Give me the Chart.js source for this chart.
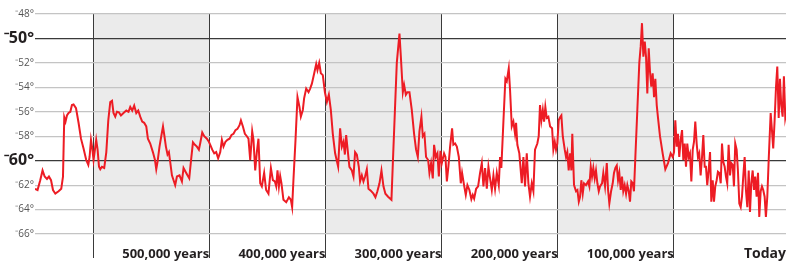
<!DOCTYPE html>
<html>
<head>
<meta charset="utf-8">
<script src="https://cdn.jsdelivr.net/npm/chart.js@4.4.0/dist/chart.umd.min.js"></script>
<style>
  html, body { margin: 0; padding: 0; background: #fff; }
  .wrap { position: relative; width: 786px; height: 263px; }
</style>
</head>
<body>
<div class="wrap"><canvas id="chart"></canvas></div>
<script>
// thousands of years ago
const years = [
  650, 647.8, 645.5, 643.5, 641.7, 639.7, 638.0, 636.2, 634.5, 632.5, 629.7, 627.4, 625.9, 624.8, 623.7, 622.5,
  621.1, 619.6, 618.2, 616.8, 614.7, 612.5, 610.4, 608.2, 605.9, 604.1, 603.0, 601.8, 600.7, 599.6, 598.4, 597.3,
  596.1, 594.9, 593.8, 592.4, 590.4, 588.6, 586.9, 585.2, 583.7, 582.4, 580.9, 579.4, 577.7, 576.0, 573.8, 571.4,
  569.5, 568.0, 566.3, 564.6, 562.8, 561.1, 559.4, 557.7, 556.0, 554.2, 552.8, 550.8, 548.5, 546.7, 545.6, 544.5,
  542.8, 541.1, 539.8, 538.7, 537.3, 535.9, 534.7, 533.6, 532.1, 530.7, 529.3, 527.8, 525.6, 523.5, 522.1, 520.4,
  518.7, 517.2, 515.8, 514.0, 512.3, 510.6, 508.9, 507.8, 506.0, 504.3, 502.0, 500.3, 499.1, 497.4, 495.7, 494.0,
  492.3, 490.5, 489.1, 487.7, 486.0, 484.3, 482.5, 480.8, 479.1, 477.4, 475.7, 473.9, 472.7, 471.0, 469.3, 467.6,
  466.2, 464.7, 463.0, 461.9, 460.4, 459.0, 457.6, 456.1,
  454.7, 452.7, 451.0, 449.0, 446.9, 445.2, 443.5, 442.3, 441.2, 440.0, 438.9, 437.8, 436.1, 433.7, 431.4, 429.7,
  428.6, 427.5, 425.7, 424.0, 422.3, 421.1, 419.4, 418.3, 416.5, 414.5, 413.1, 411.6, 409.6, 407.9, 406.8, 405.3,
  403.9, 402.2, 400.4, 398.7, 397.0, 395.3, 393.6, 391.6, 389.0, 387.3, 385.8, 384.4, 383.2, 382.1, 380.6, 379.3,
  377.2, 375.8, 374.4, 372.9, 371.2, 370.1, 368.6, 367.2, 365.8, 364.3, 362.9, 360.9, 358.6, 356.9, 355.2, 353.4,
  351.7, 350.0, 348.3, 346.0, 343.1, 341.9, 340.2, 338.5, 336.2, 335.0, 333.3, 332.2, 330.7, 329.4, 327.6, 325.6,
  323.6, 321.9, 320.4, 319.0, 317.3, 316.1, 314.7, 313.3, 311.5, 310.4, 309.0, 307.5, 306.4, 304.9, 303.5, 302.3,
  300.9, 299.7, 297.8, 296.6, 295.4, 294.1, 292.6, 290.9, 289.8, 288.3, 286.8, 285.1, 283.4, 282.3, 280.6, 279.1,
  277.7, 276.0, 274.3, 273.1, 271.9, 270.2, 268.5, 266.8, 265.3, 263.9, 262.5, 261.0, 259.6, 258.2, 256.7, 255.3,
  253.9, 252.4, 250.7, 249.6, 248.5, 246.7, 245.0, 243.8, 242.1, 241.0, 239.5, 238.1, 236.7, 235.8, 234.7, 233.0,
  232.4, 230.9, 229.5, 228.1, 226.6, 225.2, 223.8, 222.3, 220.9, 219.5, 217.5, 216.3, 215.2, 214.0, 212.8, 211.7,
  210.6, 209.4, 208.0, 206.5, 204.8, 203.7, 202.5, 201.4, 200.3, 199.1, 197.9, 196.8, 195.6, 193.9, 192.8, 191.7,
  190.5, 189.3, 188.2, 187.4, 185.9, 184.2, 183.0, 181.8, 180.7, 179.6, 178.4, 177.3, 175.6, 173.8, 172.7, 171.5,
  170.4, 169.3, 168.1, 167.0, 165.8, 164.6, 163.5, 161.8, 160.7, 159.2, 157.7, 156.6, 155.5, 154.0, 152.6, 151.5,
  150.3, 149.1, 148.0, 146.9, 145.7, 144.6, 143.5, 142.3, 141.1, 140.0, 138.8, 137.7, 136.6, 135.4, 134.3, 133.1,
  131.4, 129.7, 128.5, 127.4, 126.2, 125.0, 123.9, 122.8, 121.6, 120.5, 119.4, 118.2, 117.0, 115.9, 114.7, 113.6,
  111.9, 109.6, 107.3, 105.0, 102.7, 100.9, 99.8, 98.7, 97.5, 96.4, 95.3, 94.1, 92.9, 91.8, 90.6, 89.5,
  88.4, 87.2, 86.1, 84.9, 83.7, 82.6, 81.5, 80.3, 79.2, 78.1, 76.9, 75.7, 74.6, 73.4, 72.3, 71.2,
  70.0, 68.8, 67.7, 66.5, 65.4, 64.3, 63.1, 62.0, 60.8, 59.6, 58.5, 57.4, 56.2, 55.1, 54.0, 52.8,
  51.6, 50.5, 49.3, 48.2, 47.1, 45.9, 44.8, 43.6, 42.4, 41.3, 40.2, 39.0, 37.9, 36.7, 35.5, 34.4,
  33.3, 32.1, 31.0, 29.9, 28.7, 27.5, 26.4, 25.2, 24.1, 23.0, 21.8, 20.7, 19.5, 18.3, 16.6, 15.5,
  14.4, 13.2, 12.0, 10.9, 9.7, 8.6, 7.5, 6.3, 5.2, 4.0, 3.4
];

// temperature, degrees
const temps = [
  -62.3, -62.4, -61.6, -60.8, -61.3, -61.5, -61.3, -61.6, -62.4, -62.7, -62.5, -62.3, -61.3, -56.45, -56.8, -56.3,
  -56.1, -56.0, -55.45, -55.4, -55.7, -56.9, -58.2, -59.0, -59.95, -60.35, -59.7, -58.3, -59.0, -59.95, -59.1, -58.3,
  -59.1, -60.5, -60.7, -60.5, -60.6, -59.3, -56.7, -55.2, -55.1, -56.1, -56.4, -56.0, -56.05, -56.3, -56.1, -55.9,
  -56.0, -55.6, -55.9, -55.5, -56.1, -55.9, -56.4, -56.8, -56.9, -57.2, -58.2, -58.6, -59.3, -59.95, -60.7, -60.1,
  -58.85, -57.9, -57.2, -57.9, -58.85, -59.5, -59.3, -60.1, -61.2, -61.6, -62.0, -61.3, -61.2, -61.7, -60.6, -60.9,
  -61.2, -61.45, -60.1, -58.5, -58.7, -58.85, -59.1, -58.6, -57.7, -58.0, -58.2, -58.45, -58.7, -59.1, -59.4, -59.3,
  -59.8, -59.3, -58.3, -58.85, -58.45, -58.3, -58.2, -57.9, -57.8, -57.5, -57.4, -57.1, -56.7, -57.2, -57.8, -58.0,
  -58.2, -59.95, -57.6, -58.3, -60.8, -59.3, -58.2, -61.85,
  -62.1, -61.0, -62.4, -62.7, -60.6, -61.6, -61.7, -62.1, -60.8, -62.1, -61.25, -61.85, -63.2, -63.4, -63.0, -63.2,
  -63.8, -61.6, -58.3, -54.8, -55.6, -56.4, -55.85, -54.9, -54.1, -54.4, -54.1, -53.7, -52.85, -52.1, -52.6, -52.0,
  -52.85, -53.0, -54.4, -55.2, -54.6, -55.85, -57.8, -59.4, -60.5, -57.35, -58.85, -58.45, -59.5, -57.9, -59.3, -60.5,
  -60.8, -61.3, -59.3, -59.5, -60.5, -61.7, -61.2, -61.7, -61.3, -60.7, -62.3, -62.45, -62.7, -63.0, -62.5, -61.85,
  -60.8, -62.1, -62.7, -62.95, -63.2, -60.2, -56.1, -52.0, -49.6, -51.5, -54.4, -53.8, -54.6, -54.4, -54.4, -55.85,
  -57.8, -59.1, -59.7, -57.6, -56.4, -58.0, -57.8, -59.7, -59.95, -61.0, -60.2, -61.45, -58.7, -59.7, -59.4, -61.3,
  -59.2, -60.2, -59.4, -59.7, -61.7, -60.5, -58.85, -57.35, -58.7, -58.6, -58.85, -59.7, -61.85, -61.0, -62.0, -62.8,
  -62.0, -62.4, -63.15, -62.8, -63.1, -62.3, -62.1, -61.0, -60.2, -62.1, -60.6, -62.3, -60.5, -61.45, -62.4, -61.2,
  -62.3, -61.0, -62.0, -59.7, -60.6, -56.8, -53.3, -53.5, -52.45, -54.2, -57.2, -56.8, -57.8, -56.9, -58.7, -59.4,
  -60.1, -61.85, -59.7, -62.1, -59.4, -61.85, -62.95, -61.85, -62.5, -59.1, -58.6, -58.0, -55.45, -56.7, -55.85, -56.8,
  -55.6, -56.5, -56.4, -57.2, -57.35, -59.1, -58.45, -59.1, -58.6, -56.7, -56.45, -56.3, -58.0, -59.1, -59.7, -59.3,
  -60.8, -59.4, -60.8, -57.8, -62.0, -62.5, -62.4, -63.35, -62.95, -61.6, -62.7, -61.85, -62.0, -61.7, -62.1, -60.5,
  -61.3, -60.6, -61.45, -60.8, -61.85, -62.5, -62.1, -61.85, -61.0, -62.1, -60.2, -62.4, -63.5, -62.5, -61.85, -61.0,
  -60.6, -60.4, -61.6, -61.0, -62.4, -61.3, -62.5, -62.0, -62.7, -62.0, -62.5, -63.35, -61.7, -61.85, -62.5, -59.7,
  -55.85, -52.0, -50.65, -48.75, -51.5, -50.25, -51.5, -54.5, -50.8, -52.7, -53.95, -52.85, -54.8, -53.3, -55.45, -56.5,
  -58.0, -59.4, -60.7, -60.2, -59.4, -59.7, -59.3, -56.7, -58.85, -57.8, -59.7, -58.3, -57.5, -59.95, -58.6, -60.5,
  -58.6, -59.7, -59.4, -61.7, -59.1, -58.45, -56.8, -58.6, -59.7, -59.4, -61.2, -59.7, -57.9, -60.5, -60.5, -62.0,
  -60.8, -59.3, -63.35, -61.6, -63.35, -62.1, -61.6, -60.9, -61.0, -61.85, -58.6, -60.1, -60.5, -61.3, -61.85, -58.7,
  -61.2, -60.2, -60.35, -62.1, -58.6, -59.1, -60.8, -63.5, -63.8, -62.95, -61.3, -59.7, -62.4, -63.8, -60.8, -64.2,
  -61.85, -60.8, -62.4, -61.3, -62.95, -61.0, -64.6, -62.5, -62.1, -62.4, -62.95, -64.6, -62.95, -59.95, -56.1, -57.5,
  -59.0, -56.7, -53.95, -52.3, -56.5, -53.3, -55.45, -56.4, -53.1, -56.5, -56.2
];

const yTicks = [-66, -64, -62, -60, -58, -56, -54, -52, -50, -48];
const yMajor = [-50, -60];
const xTicks = [600, 500, 400, 300, 200, 100, 3.4];
const xLabels = ['', '500,000 years', '400,000 years', '300,000 years', '200,000 years', '100,000 years', 'Today'];
const bands = [[600, 500], [400, 300], [200, 100]];

Chart.defaults.font.family = "'Open Sans', sans-serif";

const bandPlugin = {
  id: 'bands',
  beforeDraw(chart) {
    const { ctx, chartArea } = chart;
    const x = chart.scales.x;
    ctx.save();
    ctx.fillStyle = '#ebebeb';
    bands.forEach(([a, b]) => {
      const x1 = x.getPixelForValue(a);
      const x2 = x.getPixelForValue(b);
      ctx.fillRect(x1, chartArea.top, x2 - x1, chartArea.bottom - chartArea.top);
    });
    ctx.restore();
  }
};

new Chart(document.getElementById('chart'), {
  type: 'line',
  data: {
    datasets: [{
      data: years.map((y, i) => ({ x: y, y: temps[i] })),
      borderColor: '#ed1c24',
      borderWidth: 2,
      pointRadius: 0,
      tension: 0,
      fill: false
    }]
  },
  options: {
    responsive: true,
    maintainAspectRatio: false,
    animation: false,
    layout: { padding: { top: 14, left: 0, right: 0, bottom: 0 } },
    plugins: { legend: { display: false }, tooltip: { enabled: false } },
    scales: {
      x: {
        type: 'linear',
        reverse: true,
        min: 3.4,
        max: 650,
        afterBuildTicks: (s) => { s.ticks = xTicks.map(v => ({ value: v })); },
        afterFit: (s) => { s.height = 29; },
        border: { display: false },
        grid: {
          color: (c) => (c.tick && c.tick.value === 3.4) ? 'rgba(0,0,0,0)' : '#3a3a3a',
          lineWidth: 1,
          tickLength: 24,
          drawTicks: true
        },
        ticks: {
          align: 'end',
          padding: -12,
          maxRotation: 0,
          autoSkip: false,
          color: '#231f20',
          font: (c) => (c.tick && c.tick.value === 3.4) ? { size: 14, weight: 'bold' } : { size: 13, weight: 'bold' },
          callback: (v, i) => xLabels[i]
        }
      },
      y: {
        min: -66,
        max: -48,
        afterBuildTicks: (s) => { s.ticks = yTicks.map(v => ({ value: v })); },
        afterFit: (s) => { s.width = 35; },
        border: { display: false },
        grid: {
          color: (c) => (c.tick && yMajor.includes(c.tick.value)) ? '#3a3a3a' : '#c4c4c4',
          lineWidth: 1.2,
          drawTicks: false
        },
        ticks: {
          padding: 1,
          color: (c) => (c.tick && yMajor.includes(c.tick.value)) ? '#231f20' : '#555',
          font: (c) => (c.tick && yMajor.includes(c.tick.value)) ? { size: 16, weight: 'bold' } : { size: 10 },
          callback: (v) => '\u207b' + Math.abs(v) + '\u00b0'
        }
      }
    }
  },
  plugins: [bandPlugin]
});
</script>
</body>
</html>
